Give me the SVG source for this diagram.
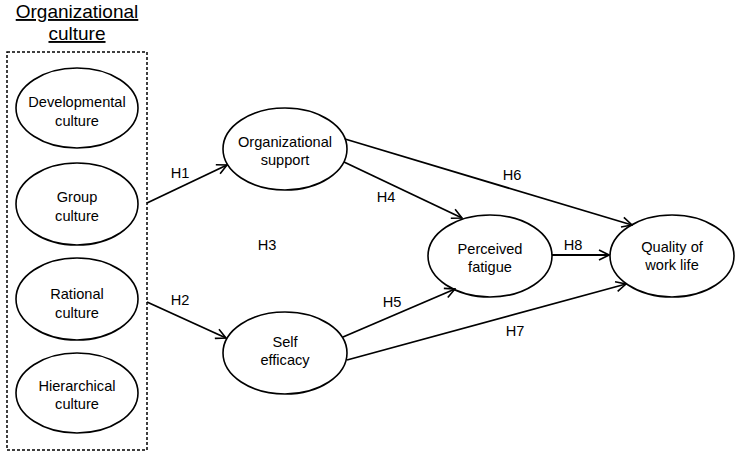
<svg xmlns="http://www.w3.org/2000/svg" width="738" height="458" viewBox="0 0 738 458">
<style>
  .node ellipse { fill: #fff; stroke: #000; stroke-width: 1.6; }
  .node text, .lbl { font-family: "Liberation Sans", Arial, sans-serif; font-size: 14.6px; fill: #000; text-anchor: middle; }
  .title { font-family: "Liberation Sans", Arial, sans-serif; font-size: 19px; fill: #000; text-anchor: middle; text-decoration: underline; }
  .conn line { stroke: #000; stroke-width: 1.8; marker-end: url(#arr); }
  .box { fill: none; stroke: #000; stroke-width: 1.5; stroke-dasharray: 3 2; }
</style>
<defs>
  <marker id="arr" viewBox="0 0 12 12" refX="11" refY="6" markerWidth="12" markerHeight="12" markerUnits="userSpaceOnUse" orient="auto">
    <path d="M1,1 L11,6 L1,11" fill="none" stroke="#000" stroke-width="1.6"/>
  </marker>
</defs>
<rect width="738" height="458" fill="#fff"/>
<g id="title">
  <text class="title" x="77" y="18">Organizational</text>
  <text class="title" x="77" y="40">culture</text>
</g>
<rect id="culture-box" class="box" x="7" y="52" width="140" height="398"/>
<g id="developmental" class="node">
  <ellipse cx="77" cy="108" rx="61" ry="40"/>
  <text x="77" y="107">Developmental</text>
  <text x="77" y="126">culture</text>
</g>
<g id="group" class="node">
  <ellipse cx="77" cy="204" rx="61" ry="41"/>
  <text x="77" y="202">Group</text>
  <text x="77" y="221">culture</text>
</g>
<g id="rational" class="node">
  <ellipse cx="77" cy="299" rx="61" ry="41"/>
  <text x="77" y="299">Rational</text>
  <text x="77" y="318">culture</text>
</g>
<g id="hierarchical" class="node">
  <ellipse cx="77" cy="393" rx="61" ry="40"/>
  <text x="77" y="391">Hierarchical</text>
  <text x="77" y="409">culture</text>
</g>
<g id="org-support" class="node">
  <ellipse cx="285" cy="149" rx="62" ry="41"/>
  <text x="285" y="147">Organizational</text>
  <text x="285" y="165">support</text>
</g>
<g id="self-efficacy" class="node">
  <ellipse cx="285" cy="353" rx="62" ry="41"/>
  <text x="285" y="347">Self</text>
  <text x="285" y="365">efficacy</text>
</g>
<g id="perceived-fatigue" class="node">
  <ellipse cx="490" cy="256" rx="62" ry="41"/>
  <text x="490" y="254">Perceived</text>
  <text x="490" y="272">fatigue</text>
</g>
<g id="quality-work-life" class="node">
  <ellipse cx="672" cy="256" rx="62" ry="41"/>
  <text x="672" y="252">Quality of</text>
  <text x="672" y="270">work life</text>
</g>
<g id="connectors" class="conn">
  <line x1="147" y1="203" x2="227" y2="165"/>
  <line x1="147" y1="302" x2="226" y2="338"/>
  <line x1="344" y1="162" x2="462" y2="218"/>
  <line x1="345" y1="139" x2="632" y2="225"/>
  <line x1="343" y1="337" x2="455" y2="289"/>
  <line x1="347" y1="360" x2="626" y2="284"/>
  <line x1="552" y1="255" x2="609" y2="255"/>
</g>
<g id="labels">
  <text class="lbl" x="180" y="178">H1</text>
  <text class="lbl" x="180" y="305">H2</text>
  <text class="lbl" x="267" y="250">H3</text>
  <text class="lbl" x="386" y="202">H4</text>
  <text class="lbl" x="392" y="307">H5</text>
  <text class="lbl" x="512" y="180">H6</text>
  <text class="lbl" x="515" y="336">H7</text>
  <text class="lbl" x="573" y="250">H8</text>
</g>
</svg>
